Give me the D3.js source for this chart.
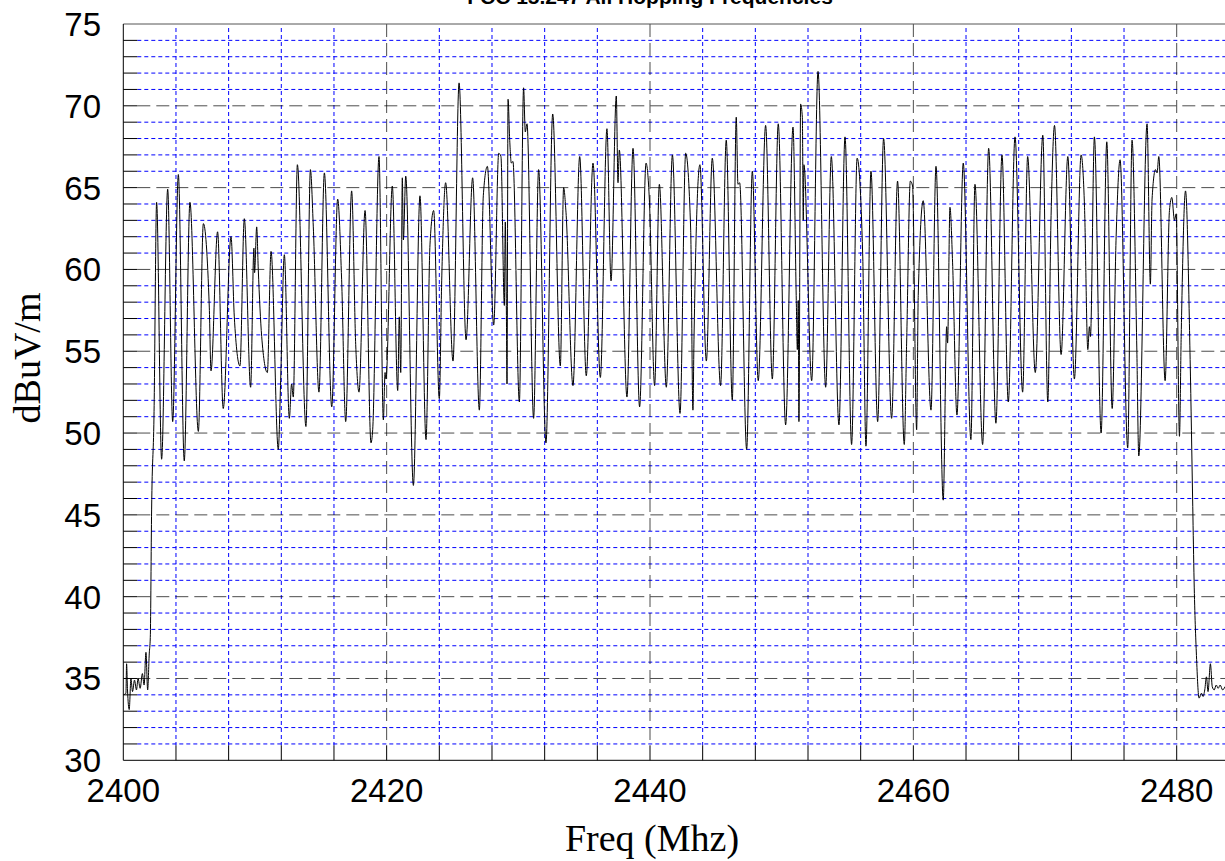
<!DOCTYPE html>
<html>
<head>
<meta charset="utf-8">
<script src="https://cdn.jsdelivr.net/npm/d3@7"></script>
<style>
  body { margin: 0; background: #fff; }
  svg { display: block; }
</style>
</head>
<body>
<div id="chart"></div>
<script>
// spectrum trace (MHz / dBuV/m)
var freqMHz = [
  2400.00, 2400.20, 2400.25, 2400.32, 2400.45, 2400.58, 2400.70, 2400.85, 2401.00, 2401.12,
  2401.28, 2401.45, 2401.58, 2401.72, 2401.85, 2401.97, 2402.05, 2402.15, 2402.33, 2402.53,
  2402.91, 2403.37, 2403.75, 2404.18, 2404.63, 2405.06, 2405.70, 2406.08, 2406.53, 2406.66,
  2407.16, 2407.59, 2408.18, 2408.43, 2408.86, 2409.19, 2409.67, 2409.92, 2409.97, 2410.13,
  2410.25, 2410.51, 2410.94, 2411.22, 2411.77, 2411.95, 2412.23, 2412.61, 2412.78, 2412.91,
  2413.22, 2413.87, 2414.21, 2414.43, 2414.86, 2415.27, 2415.83, 2416.28, 2416.58, 2416.89,
  2417.34, 2417.65, 2417.90, 2418.36, 2418.81, 2418.94, 2419.42, 2419.75, 2419.88, 2419.95,
  2420.43, 2420.84, 2420.96, 2421.07, 2421.19, 2421.27, 2421.45, 2422.03, 2422.53, 2422.99,
  2423.29, 2423.57, 2424.00, 2424.18, 2424.48, 2425.04, 2425.50, 2426.03, 2426.53, 2427.04,
  2427.34, 2427.65, 2428.13, 2428.51, 2428.68, 2428.94, 2429.01, 2429.09, 2429.14, 2429.22,
  2429.34, 2429.47, 2429.59, 2430.08, 2430.40, 2430.53, 2430.66, 2431.16, 2431.54, 2432.10,
  2432.61, 2433.19, 2433.44, 2433.62, 2434.15, 2434.66, 2435.16, 2435.67, 2436.23, 2436.73,
  2437.04, 2437.44, 2437.57, 2437.67, 2438.25, 2438.71, 2439.21, 2439.70, 2439.95, 2440.35,
  2440.71, 2441.24, 2441.70, 2442.28, 2442.71, 2443.09, 2443.26, 2443.34, 2443.79, 2444.28,
  2444.73, 2445.36, 2445.79, 2446.25, 2446.55, 2446.68, 2446.81, 2447.34, 2447.77, 2448.22,
  2448.78, 2449.29, 2449.74, 2450.30, 2450.86, 2451.11, 2451.19, 2451.26, 2451.31, 2451.44,
  2451.57, 2451.64, 2451.69, 2452.28, 2452.76, 2453.34, 2453.77, 2454.35, 2454.81, 2455.31,
  2455.73, 2456.15, 2456.40, 2456.78, 2457.29, 2457.74, 2458.35, 2458.80, 2459.31, 2459.49,
  2459.77, 2459.94, 2460.25, 2460.37, 2460.75, 2461.34, 2461.72, 2462.27, 2462.53, 2462.60,
  2462.78, 2462.98, 2463.31, 2463.79, 2464.37, 2464.68, 2465.26, 2465.72, 2466.27, 2466.73,
  2467.21, 2467.72, 2468.30, 2468.68, 2469.26, 2469.83, 2470.21, 2470.46, 2470.72, 2471.22,
  2471.73, 2472.23, 2472.74, 2473.00, 2473.25, 2473.37, 2473.45, 2473.75, 2474.26, 2474.69,
  2475.10, 2475.40, 2475.70, 2476.28, 2476.61, 2476.97, 2477.12, 2477.75, 2478.00, 2478.13,
  2478.39, 2478.51, 2478.64, 2479.12, 2479.45, 2479.63, 2479.83, 2479.96, 2480.21, 2480.34,
  2480.67, 2481.02, 2481.22, 2481.32, 2481.50, 2481.70, 2481.88, 2482.00, 2482.13, 2482.26,
  2482.38, 2482.56, 2482.70, 2482.85, 2483.00, 2483.15, 2483.30, 2483.49, 2483.66
];
var levelDb = [
  34.0, 34.1, 35.9, 34.3, 33.1, 35.0, 34.2, 34.9, 34.3, 35.0,
  34.4, 35.3, 34.6, 36.6, 34.3, 36.5, 37.5, 45.3, 51.0, 64.1,
  48.4, 64.9, 50.7, 65.8, 48.3, 64.1, 50.1, 62.8, 57.7, 53.8,
  62.3, 51.5, 62.0, 57.1, 54.1, 63.1, 52.8, 61.3, 59.8, 62.6,
  60.0, 55.9, 53.7, 61.1, 49.0, 53.2, 60.9, 50.9, 53.0, 52.2,
  66.4, 50.4, 66.1, 62.6, 52.5, 65.9, 51.6, 64.3, 59.4, 50.7,
  64.8, 55.4, 52.5, 63.6, 49.4, 50.2, 66.9, 50.8, 53.7, 53.3,
  65.1, 52.6, 57.1, 53.7, 65.6, 61.8, 65.7, 46.8, 64.5, 49.6,
  61.5, 63.6, 52.1, 59.3, 65.3, 54.4, 71.4, 55.7, 65.6, 51.4,
  64.5, 66.3, 56.6, 67.1, 66.9, 57.8, 62.9, 57.8, 53.0, 70.4,
  68.0, 66.5, 66.6, 51.9, 71.1, 68.4, 68.9, 50.9, 66.1, 49.4,
  69.5, 54.1, 65.0, 63.5, 52.9, 66.9, 53.5, 66.5, 53.4, 68.6,
  59.3, 70.6, 65.3, 67.3, 52.2, 67.4, 51.6, 66.5, 64.3, 52.9,
  65.2, 52.8, 67.0, 51.2, 67.1, 62.4, 51.4, 55.7, 66.4, 54.4,
  66.8, 52.9, 67.9, 52.0, 69.3, 65.2, 65.3, 49.0, 66.0, 53.2,
  68.8, 53.3, 68.9, 50.5, 68.7, 58.1, 55.1, 58.1, 50.7, 70.1,
  69.3, 63.0, 66.4, 53.2, 72.1, 52.8, 66.9, 50.5, 68.1, 49.3,
  66.8, 61.0, 49.2, 66.0, 50.7, 68.0, 50.9, 65.4, 49.3, 55.5,
  65.4, 65.1, 50.2, 58.4, 64.2, 51.4, 66.3, 45.9, 56.5, 55.5,
  63.8, 60.4, 51.1, 66.5, 49.6, 65.2, 49.3, 67.4, 50.6, 67.0,
  51.9, 68.1, 52.5, 66.9, 53.7, 68.2, 51.9, 63.3, 68.8, 54.8,
  66.9, 53.3, 67.0, 63.8, 55.1, 56.5, 55.9, 68.1, 50.0, 67.8,
  51.5, 62.0, 66.7, 49.1, 67.9, 55.2, 48.6, 68.9, 59.1, 64.3,
  66.1, 65.9, 66.9, 53.2, 63.6, 64.4, 63.0, 63.4, 49.8, 55.9,
  64.8, 54.5, 45.5, 41.0, 36.4, 33.8, 34.1, 33.9, 34.3, 35.1,
  34.2, 35.9, 34.5, 34.3, 34.6, 34.4, 34.6, 34.3, 34.5
];

var xTicks = [2400, 2420, 2440, 2460, 2480];
var yTicks = [30, 35, 40, 45, 50, 55, 60, 65, 70, 75];
var titleText = "FCC 15.247 All Hopping Frequencies";
var xTitle = "Freq (Mhz)";
var yTitle = "dBuV/m";

(() => {
    var width = 1225, height = 861;
    var pLeft = 123.3, pTop = 24, pBottom = 760.3, pRight = 1225;

    var svg = d3.select("#chart").append("svg")
        .attr("width", width)
        .attr("height", height);

    var x = d3.scaleLinear().domain([2400, 2480]).range([pLeft, 1176.7]);
    var y = d3.scaleLinear().domain([30, 75]).range([pBottom, pTop]);

    svg.append("clipPath").attr("id", "plotclip")
        .append("rect")
        .attr("x", pLeft).attr("y", pTop)
        .attr("width", pRight - pLeft).attr("height", pBottom - pTop);

    var grid = svg.append("g");

    // minor grid, blue dotted
    var yMinor = d3.range(31, 75).filter(function (v) { return v % 5 !== 0; });
    var xMinor = d3.range(2404, 2484, 4).filter(function (v) { return v % 20 !== 0; });

    grid.selectAll(".hmin")
        .data(yMinor)
        .join("line")
        .attr("x1", pLeft + 14).attr("x2", pRight)
        .attr("y1", function (d) { return y(d); })
        .attr("y2", function (d) { return y(d); })
        .attr("stroke", "#0000ff")
        .attr("stroke-width", 1)
        .attr("stroke-dasharray", "4,3");

    grid.selectAll(".vmin")
        .data(xMinor)
        .join("line")
        .attr("x1", function (d) { return x(d); })
        .attr("x2", function (d) { return x(d); })
        .attr("y1", pTop + 4).attr("y2", pBottom - 15)
        .attr("stroke", "#0000ff")
        .attr("stroke-width", 1)
        .attr("stroke-dasharray", "4,3");

    // major grid, black dashed
    grid.selectAll(".hmaj")
        .data(yTicks.filter(function (v) { return v > 30 && v < 75; }))
        .join("line")
        .attr("x1", pLeft + 14).attr("x2", pRight)
        .attr("y1", function (d) { return y(d); })
        .attr("y2", function (d) { return y(d); })
        .attr("stroke", "#000")
        .attr("stroke-opacity", 0.7)
        .attr("stroke-width", 1)
        .attr("stroke-dasharray", "13,6");

    grid.selectAll(".vmaj")
        .data(xTicks.filter(function (v) { return v > 2400; }))
        .join("line")
        .attr("x1", function (d) { return x(d); })
        .attr("x2", function (d) { return x(d); })
        .attr("y1", pTop).attr("y2", pBottom - 15)
        .attr("stroke", "#000")
        .attr("stroke-opacity", 0.7)
        .attr("stroke-width", 1)
        .attr("stroke-dasharray", "13,6");

    // inner ticks
    svg.selectAll(".ytick")
        .data(d3.range(31, 75))
        .join("line")
        .attr("x1", pLeft).attr("x2", pLeft + 14)
        .attr("y1", function (d) { return y(d); })
        .attr("y2", function (d) { return y(d); })
        .attr("stroke", "#000");

    svg.selectAll(".xtick")
        .data(d3.range(2404, 2484, 4))
        .join("line")
        .attr("x1", function (d) { return x(d); })
        .attr("x2", function (d) { return x(d); })
        .attr("y1", pBottom).attr("y2", pBottom - 15)
        .attr("stroke", "#000");

    // frame
    svg.append("line")
        .attr("x1", pLeft).attr("x2", pRight).attr("y1", pTop).attr("y2", pTop)
        .attr("stroke", "#555");
    svg.append("line")
        .attr("x1", pLeft).attr("x2", pLeft).attr("y1", pTop).attr("y2", pBottom)
        .attr("stroke", "#000");
    svg.append("line")
        .attr("x1", pLeft).attr("x2", pRight).attr("y1", pBottom).attr("y2", pBottom)
        .attr("stroke", "#000");

    // trace
    var pts = freqMHz.map(function (f, i) { return [f, levelDb[i]]; });
    var line = d3.line()
        .x(function (d) { return x(d[0]); })
        .y(function (d) { return y(d[1]); })
        .curve(d3.curveMonotoneX);

    svg.append("path")
        .datum(pts)
        .attr("clip-path", "url(#plotclip)")
        .attr("fill", "none")
        .attr("stroke", "#000")
        .attr("stroke-width", 1)
        .attr("d", line);

    // tick labels
    svg.selectAll(".xlab")
        .data(xTicks)
        .join("text")
        .attr("x", function (d) { return x(d); })
        .attr("y", 802)
        .attr("text-anchor", "middle")
        .attr("font-family", "Liberation Sans, Arial, sans-serif")
        .attr("font-size", "33px")
        .attr("fill", "#000")
        .text(function (d) { return d; });

    svg.selectAll(".ylab")
        .data(yTicks)
        .join("text")
        .attr("x", 101)
        .attr("y", function (d) { return y(d) + 12; })
        .attr("text-anchor", "end")
        .attr("font-family", "Liberation Sans, Arial, sans-serif")
        .attr("font-size", "33px")
        .attr("fill", "#000")
        .text(function (d) { return d; });

    // titles (the plot title sits partly above the top edge, as in the source)
    svg.append("text")
        .attr("x", 650)
        .attr("y", 3.5)
        .attr("text-anchor", "middle")
        .attr("font-family", "Liberation Sans, Arial, sans-serif")
        .attr("font-weight", "bold")
        .attr("font-size", "21px")
        .text(titleText);

    svg.append("text")
        .attr("x", 652)
        .attr("y", 851)
        .attr("text-anchor", "middle")
        .attr("font-family", "Liberation Serif, Times New Roman, serif")
        .attr("font-size", "38px")
        .text(xTitle);

    svg.append("text")
        .attr("transform", "translate(40,358) rotate(-90)")
        .attr("text-anchor", "middle")
        .attr("font-family", "Liberation Serif, Times New Roman, serif")
        .attr("font-size", "38px")
        .text(yTitle);
})();
</script>
</body>
</html>
